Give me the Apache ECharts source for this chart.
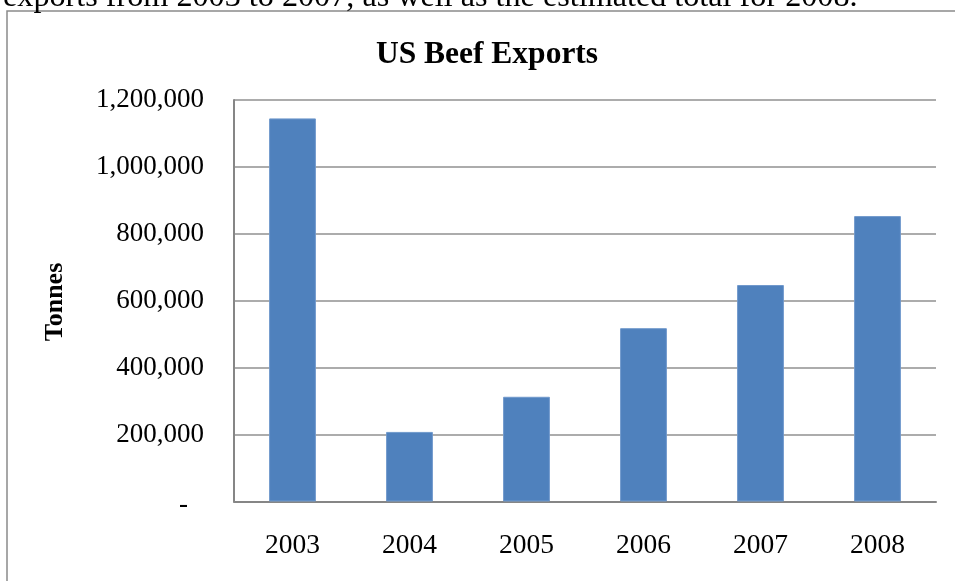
<!DOCTYPE html>
<html>
<head>
<meta charset="utf-8">
<script src="https://cdn.jsdelivr.net/npm/echarts@6/dist/echarts.min.js"></script>
<style>html,body{margin:0;padding:0;background:#fff;}#chart{width:955px;height:581px;}</style>
</head>
<body>
<div id="chart"></div>
<script>
var categories = ['2003', '2004', '2005', '2006', '2007', '2008'];
var exportsTonnes = [1145000, 208000, 313000, 518000, 647000, 853000];
var yTicks = { min: 0, max: 1200000, interval: 200000 };
var chartTitle = 'US Beef Exports';
var yAxisTitle = 'Tonnes';
var captionText = 'exports from 2003 to 2007, as well as the estimated total for 2008.';

var serif = '"Liberation Serif", "Times New Roman", serif';
var chart = echarts.init(document.getElementById('chart'), null, { renderer: 'canvas' });
chart.setOption({
  backgroundColor: '#fff',
  animation: false,
  title: {
    text: chartTitle,
    left: 482,
    top: 34,
    textAlign: 'center',
    textStyle: { fontFamily: serif, fontWeight: 'bold', fontSize: 31.5, color: '#000' }
  },
  grid: { left: 234, right: 19, top: 100, bottom: 79.5, containLabel: false },
  xAxis: {
    type: 'category',
    data: categories,
    axisLine: { show: true, lineStyle: { color: '#868686', width: 2 } },
    axisTick: { show: false },
    axisLabel: { fontFamily: serif, fontSize: 27.5, color: '#000', margin: 30 }
  },
  yAxis: {
    type: 'value',
    min: yTicks.min,
    max: yTicks.max,
    interval: yTicks.interval,
    axisLine: { show: true, lineStyle: { color: '#868686', width: 2 } },
    axisTick: { show: false },
    splitLine: { show: true, lineStyle: { color: '#909090', width: 1.5 } },
    axisLabel: {
      fontFamily: serif, fontSize: 27, color: '#000', margin: 30,
      formatter: function (v) {
        if (v === 0) return '{z|-}';
        return v.toLocaleString('en-US');
      },
      rich: { z: { fontFamily: serif, fontSize: 27, color: '#000', padding: [6, 16, 0, 0] } }
    }
  },
  series: [{
    type: 'bar',
    data: exportsTonnes,
    barWidth: '40%',
    itemStyle: { color: '#4F81BD', borderColor: '#7099cc', borderWidth: 1 }
  }],
  graphic: [
    {
      type: 'rect',
      shape: { x: 7, y: 11, width: 1000, height: 700 },
      style: { fill: 'none', stroke: '#8a8a8a', lineWidth: 1.5 },
      silent: true
    },
    {
      type: 'text',
      x: 3, y: -2,
      style: { text: captionText, font: '32.2px ' + serif, fill: '#000', align: 'left', verticalAlign: 'middle' },
      silent: true
    },
    {
      type: 'text',
      x: 55, y: 302,
      rotation: Math.PI / 2,
      style: { text: yAxisTitle, font: 'bold 26px ' + serif, fill: '#000', align: 'center', verticalAlign: 'middle' },
      silent: true
    }
  ]
});
</script>
</body>
</html>
